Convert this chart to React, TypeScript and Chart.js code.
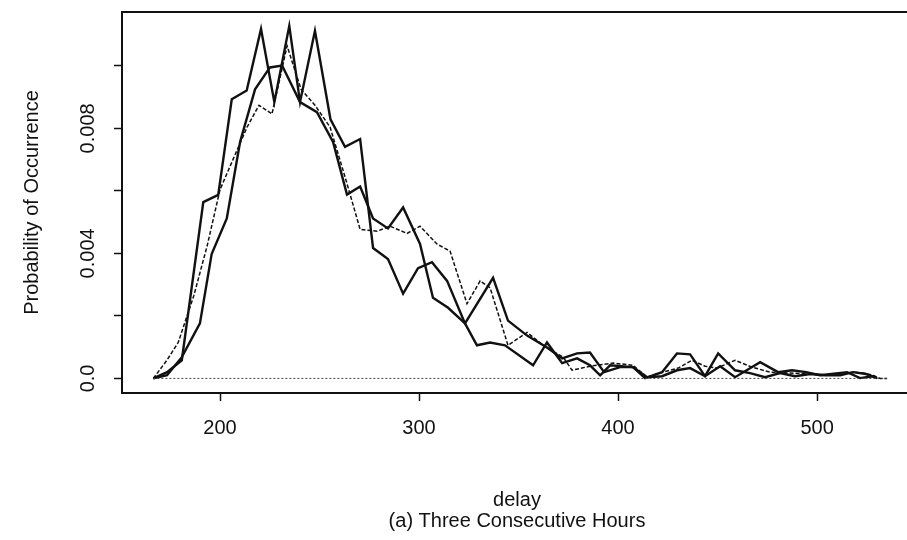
import React, { useEffect, useRef } from "react";
import { Chart, registerables } from "chart.js";

Chart.register(...registerables);

// ---- data (delay in ms, probability of occurrence) ----
const hourAX = [166.5, 173.4, 180.8, 191.6, 199.1, 205.9, 213.4, 220.6, 227.3, 234.8, 240.2, 247.7, 255.5, 262.8, 270.4, 276.9, 284.4, 292.0, 299.5, 306.5, 314.1, 323.1, 329.1, 335.7, 343.2, 357.3, 364.3, 371.9, 379.4, 385.9, 391.0, 396.0, 407.5, 413.6, 422.1, 429.6, 436.2, 443.7, 451.3, 458.8, 471.4, 480.4, 487.4, 494.5, 501.5, 515.1, 521.6, 528.1];
const hourAY = [0, 0.0002, 0.00058, 0.00564, 0.00587, 0.00893, 0.00921, 0.01118, 0.00884, 0.01128, 0.00884, 0.01112, 0.00829, 0.00741, 0.00766, 0.00417, 0.00382, 0.00271, 0.00353, 0.00372, 0.00312, 0.00176, 0.00106, 0.00115, 0.00106, 0.00042, 0.00115, 0.00049, 0.00064, 0.00042, 0.0001, 0.00042, 0.00036, 0.00001, 0.0002, 0.0008, 0.00077, 0.00007, 0.00039, 0.00004, 0.00052, 0.0002, 0.00026, 0.0002, 0.0001, 0.0002, 0.00001, 0.00007];

const hourBX = [166.5, 173.4, 180.8, 189.9, 195.8, 203.4, 210.1, 217.6, 225.1, 231.2, 240.2, 248.7, 256.8, 263.8, 270.4, 276.9, 284.4, 292.0, 300.5, 307.0, 314.6, 323.1, 337.2, 344.7, 354.3, 364.3, 371.9, 379.4, 385.9, 393.0, 401.0, 407.5, 414.6, 422.1, 429.6, 436.2, 443.7, 450.3, 458.8, 466.3, 473.9, 481.4, 488.9, 496.5, 504.0, 511.6, 518.1, 524.6, 530.2];
const hourBY = [0, 0.0001, 0.00068, 0.00176, 0.00398, 0.00512, 0.00757, 0.00925, 0.00995, 0.01001, 0.00884, 0.00852, 0.00757, 0.00588, 0.00614, 0.00512, 0.0048, 0.00547, 0.0043, 0.00258, 0.00226, 0.00176, 0.00322, 0.00185, 0.00137, 0.00099, 0.00064, 0.0008, 0.00083, 0.0002, 0.00036, 0.00036, 0.00004, 0.00007, 0.00026, 0.00033, 0.00007, 0.0008, 0.00026, 0.00017, 0.00004, 0.00017, 0.00007, 0.00014, 0.0001, 0.0001, 0.0002, 0.00014, 0.00001];

const hourCX = [166.5, 173.3, 179.0, 186.8, 193.5, 200.0, 206.5, 213.6, 219.6, 226.1, 233.7, 240.7, 247.7, 255.3, 262.8, 270.4, 278.9, 285.4, 294.0, 300.5, 309.0, 315.6, 324.1, 330.7, 335.7, 344.7, 354.3, 362.3, 372.4, 376.9, 385.9, 397.5, 407.5, 414.6, 422.6, 430.2, 437.2, 443.7, 449.7, 458.8, 467.3, 476.4, 486.4, 496.5, 506.5, 518.1, 523.1, 528.1, 531.7, 535.2];
const hourCY = [0, 0.00058, 0.00115, 0.00264, 0.00423, 0.00604, 0.007, 0.00804, 0.00874, 0.00846, 0.01064, 0.00925, 0.00874, 0.00804, 0.00645, 0.00477, 0.00471, 0.00487, 0.00464, 0.00487, 0.0043, 0.00407, 0.00239, 0.00312, 0.0029, 0.00106, 0.00147, 0.00106, 0.00068, 0.00026, 0.00039, 0.00049, 0.00042, 0.00004, 0.0002, 0.00033, 0.00058, 0.00039, 0.00033, 0.00058, 0.00036, 0.0002, 0.00017, 0.00014, 0.0001, 0.0002, 0.00017, 0.0001, 0, 0];

const zeroLineX = [166.5, 535.2];
const zeroLineY = [0, 0];

const xTicks = [200, 300, 400, 500];
const xTickLabels = ["200", "300", "400", "500"];
const yTicks = [0, 0.002, 0.004, 0.006, 0.008, 0.01];
const yTickLabels = ["0.0", "", "0.004", "", "0.008", ""];
const xTitle = ["delay", "(a) Three Consecutive Hours"];
const yTitle = "Probability of Occurrence";

const X_MIN = 150.75;
const X_MAX = 547.7;
const Y_MIN = -0.000467;
const Y_MAX = 0.011724;

const INK = "#111111";
const FONT = "'Liberation Sans', Arial, Helvetica, sans-serif";

const toPoints = (xs: number[], ys: number[]) => xs.map((x, i) => ({ x, y: ys[i] }));

export default function App() {
  const ref = useRef<HTMLCanvasElement | null>(null);

  useEffect(() => {
    const canvas = ref.current;
    if (!canvas) return;
    const chart = new Chart(canvas, {
      type: "line",
      data: {
        datasets: [
          {
            label: "zero",
            data: toPoints(zeroLineX, zeroLineY),
            borderColor: "#444444",
            borderWidth: 1,
            borderDash: [2, 2],
            pointRadius: 0,
            tension: 0,
          },
          {
            label: "hour 3",
            data: toPoints(hourCX, hourCY),
            borderColor: INK,
            borderWidth: 1.5,
            borderDash: [4, 2],
            pointRadius: 0,
            tension: 0,
          },
          {
            label: "hour 2",
            data: toPoints(hourBX, hourBY),
            borderColor: INK,
            borderWidth: 2.4,
            pointRadius: 0,
            tension: 0,
            borderJoinStyle: "miter",
          },
          {
            label: "hour 1",
            data: toPoints(hourAX, hourAY),
            borderColor: INK,
            borderWidth: 2.4,
            pointRadius: 0,
            tension: 0,
            borderJoinStyle: "miter",
          },
        ],
      },
      options: {
        responsive: false,
        animation: false,
        devicePixelRatio: 1,
        layout: { padding: { left: 0, top: 9, right: 8, bottom: 0 } },
        plugins: { legend: { display: false }, tooltip: { enabled: false } },
        scales: {
          x: {
            type: "linear",
            position: "bottom",
            min: X_MIN,
            max: X_MAX,
            afterBuildTicks: (s: any) => {
              s.ticks = xTicks.map((v) => ({ value: v }));
            },
            afterFit: (s: any) => {
              s.height = 147;
            },
            grid: {
              display: true,
              drawOnChartArea: false,
              drawTicks: true,
              tickLength: 8,
              tickWidth: 1.5,
              tickColor: INK,
            },
            border: { display: true, color: INK, width: 2 },
            ticks: {
              color: INK,
              font: { family: FONT, size: 20 },
              padding: 15,
              maxRotation: 0,
              autoSkip: false,
              callback: (_v: any, i: number) => xTickLabels[i],
            },
            title: {
              display: true,
              text: xTitle,
              color: INK,
              font: { family: FONT, size: 20, lineHeight: 1.05 },
              padding: { top: 0, bottom: 8 },
            },
          },
          xTop: {
            type: "linear",
            position: "top",
            min: X_MIN,
            max: X_MAX,
            grid: { display: false, drawTicks: false },
            ticks: { display: false },
            border: { display: true, color: INK, width: 2 },
            afterFit: (s: any) => {
              s.height = 0;
            },
          },
          y: {
            type: "linear",
            min: Y_MIN,
            max: Y_MAX,
            afterBuildTicks: (s: any) => {
              s.ticks = yTicks.map((v) => ({ value: v }));
            },
            afterFit: (s: any) => {
              s.width = 122;
            },
            grid: {
              display: true,
              drawOnChartArea: false,
              drawTicks: true,
              tickLength: 8,
              tickWidth: 1.5,
              tickColor: INK,
            },
            border: { display: true, color: INK, width: 2 },
            ticks: {
              color: INK,
              font: { family: FONT, size: 20 },
              padding: 0,
              minRotation: 90,
              maxRotation: 90,
              crossAlign: "center",
              autoSkip: false,
              callback: (_v: any, i: number) => yTickLabels[i],
            },
            title: {
              display: true,
              text: yTitle,
              color: INK,
              font: { family: FONT, size: 20 },
              padding: { top: 20, bottom: 0 },
            },
          },
        },
      } as any,
    });
    return () => chart.destroy();
  }, []);

  return (
    <div
      style={{
        position: "fixed",
        left: 0,
        top: 0,
        width: 907,
        height: 540,
        overflow: "hidden",
        background: "#ffffff",
      }}
    >
      <canvas ref={ref} width={920} height={540} style={{ width: 920, height: 540, display: "block" }} />
    </div>
  );
}
